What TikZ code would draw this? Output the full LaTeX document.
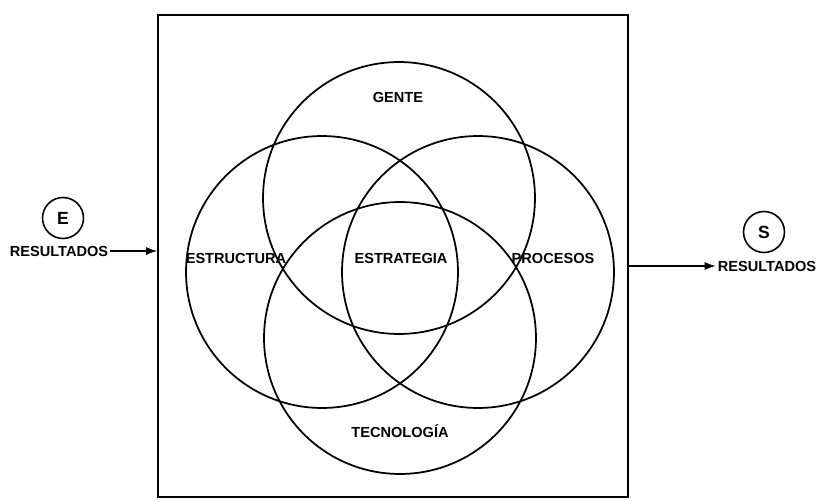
\documentclass[tikz,border=0pt]{standalone}
\usepackage{fontspec}
\setmainfont{Liberation Sans}
\usetikzlibrary{positioning, arrows.meta}
\tikzset{
  area/.style={
    circle,
    draw=black,
    line width=1pt,
    minimum size=5.44cm,
    inner sep=0pt
  },
  etiqueta/.style={
    font=\fontsize{8.3}{9}\selectfont\bfseries,
    inner sep=1pt
  },
  marca/.style={
    circle,
    draw=black,
    line width=0.9pt,
    minimum size=0.82cm,
    inner sep=0pt,
    font=\fontsize{10}{11}\selectfont\bfseries
  },
  flujo/.style={
    -{Latex[length=2.2mm, width=1.6mm]},
    line width=0.8pt
  }
}

\begin{document}
\begin{tikzpicture}[x=0.02cm, y=-0.02cm]
  \useasboundingbox (0,0) rectangle (819,501);

  % sistema
  \node[draw, line width=1pt, minimum width=9.4cm, minimum height=9.64cm] (marco) at (393,256) {};

  % circulos
  \node[area] (gente) at (399,198) {};
  \node[area] (estructura) at (322,272) {};
  \node[area] (procesos) at (478,272) {};
  \node[area] (tecnologia) at (400,338) {};

  \node[etiqueta] (lgente) at (398,97) {GENTE};
  \node[etiqueta] (lestructura) at (236,258) {ESTRUCTURA};
  \node[etiqueta] (lestrategia) at (401,258) {ESTRATEGIA};
  \node[etiqueta] (lprocesos) at (553,258) {PROCESOS};
  \node[etiqueta] (ltecnologia) at (400,431) {TECNOLOGÍA};

  % entrada
  \node[marca] (e) at (63,218) {E};
  \node[etiqueta] (resE) at (59,251) {RESULTADOS};
  \draw[flujo] (resE.east) -- (resE.east -| marco.west);

  % salida
  \node[marca] (s) at (764,232) {S};
  \node[etiqueta] (resS) at (767,266) {RESULTADOS};
  \draw[flujo] (marco.east |- resS.west) -- (resS.west);
\end{tikzpicture}
\end{document}
